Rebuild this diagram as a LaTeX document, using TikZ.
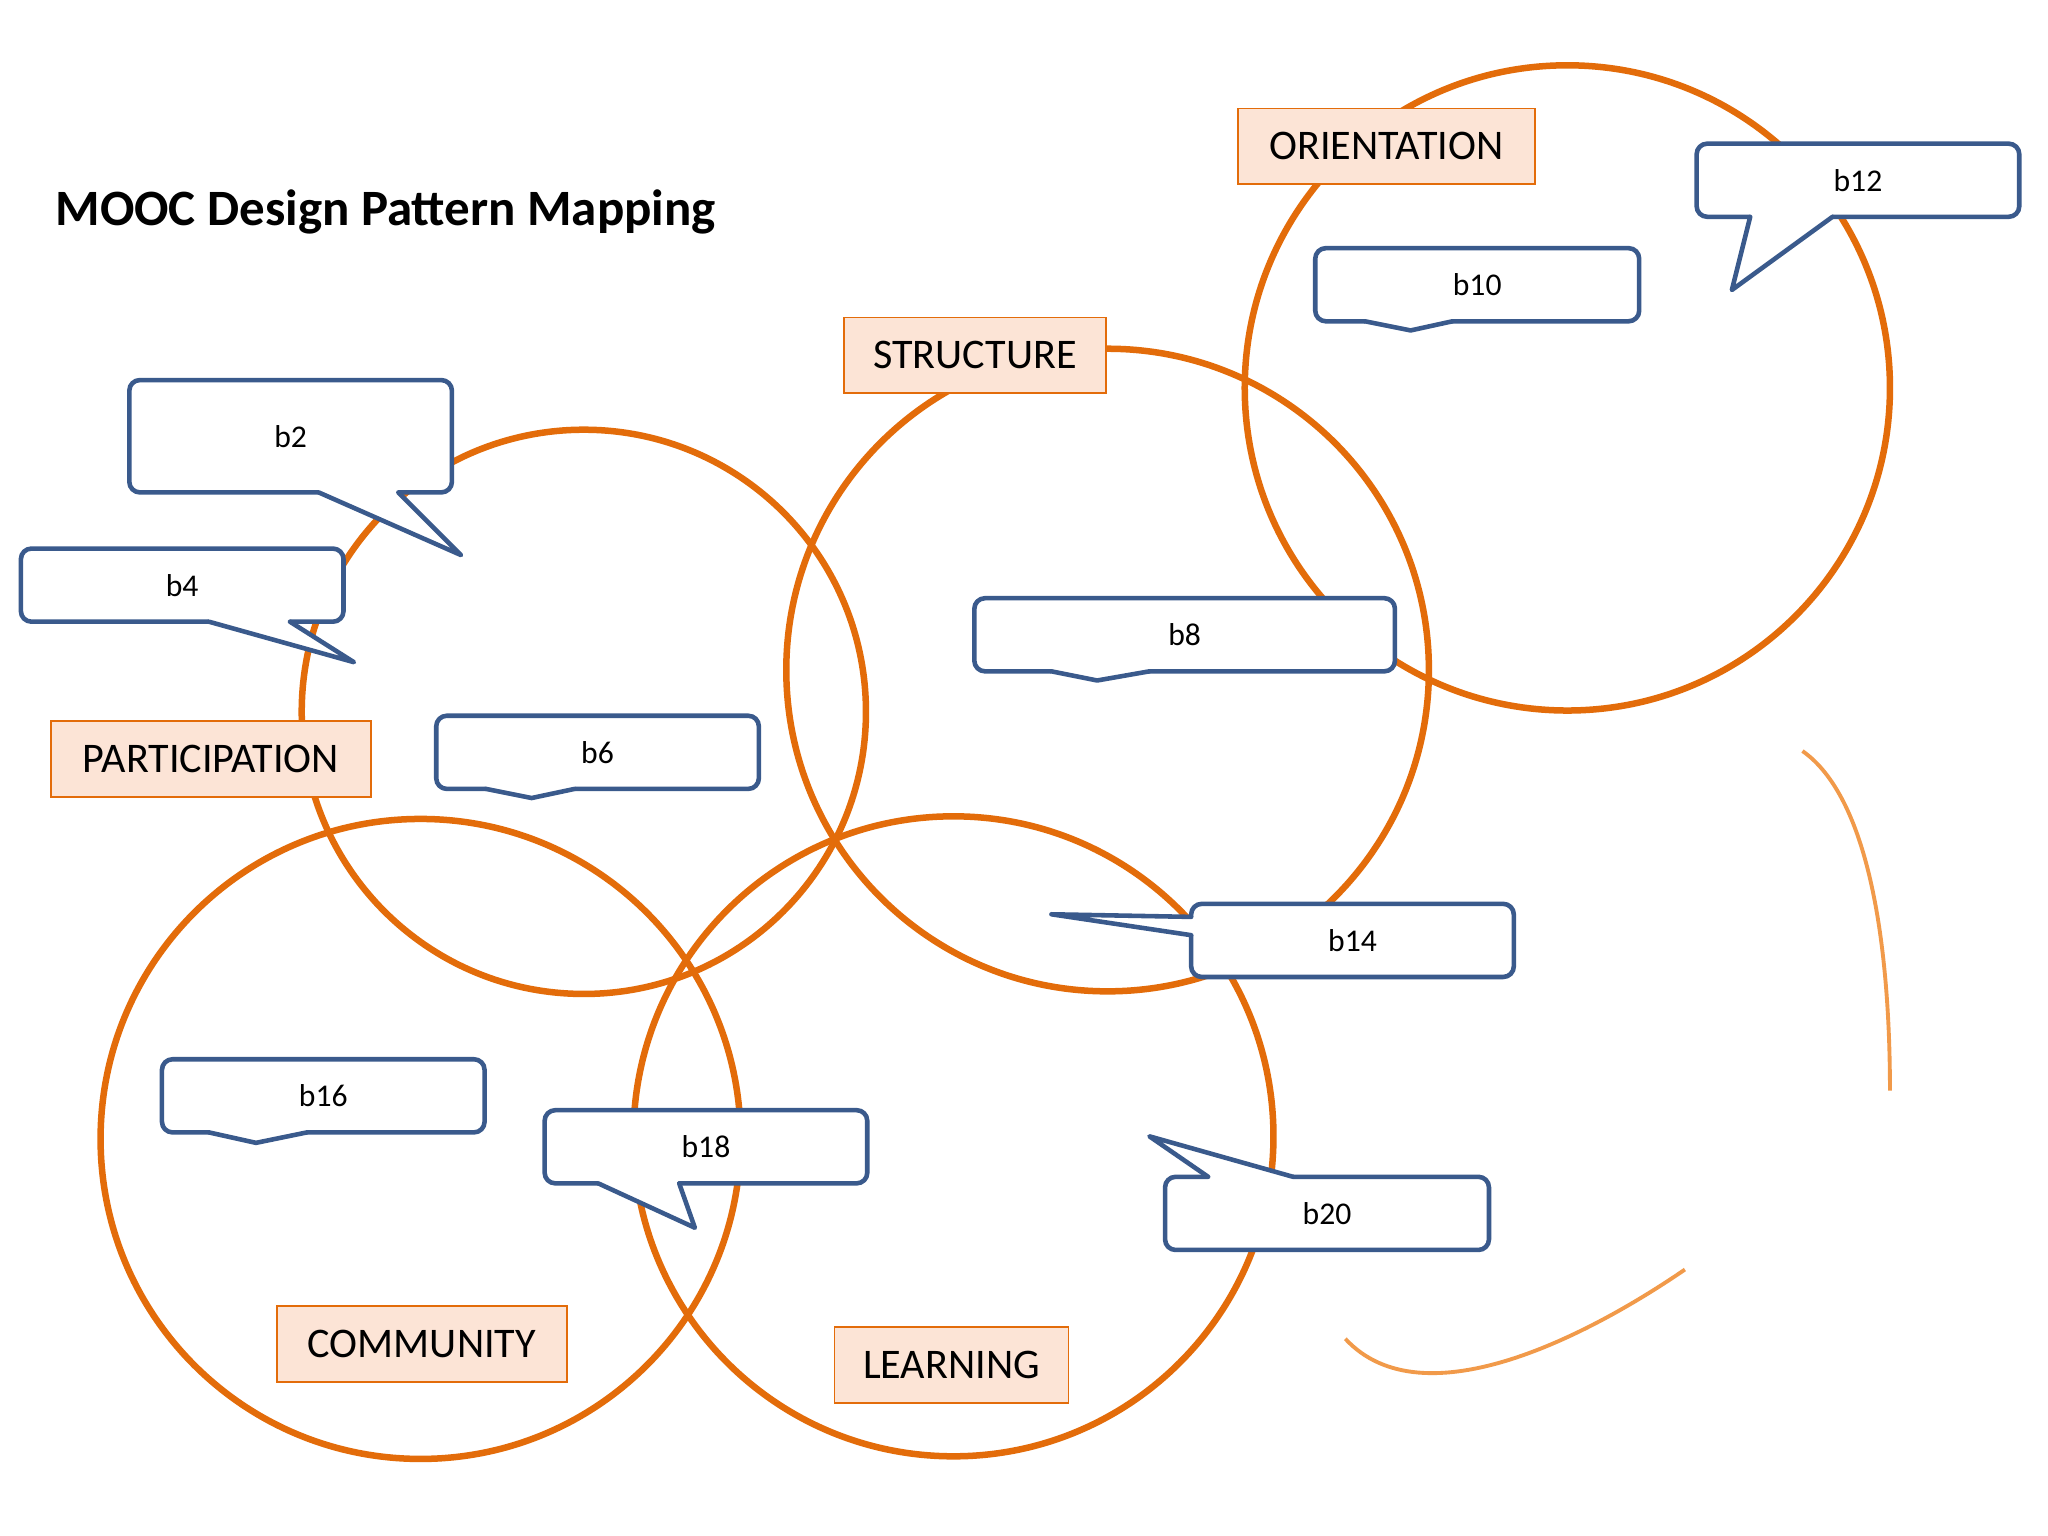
\documentclass[tikz,border=0pt]{standalone}
\usepackage{fontspec}
\setmainfont{Carlito}
\usetikzlibrary{calc}
\definecolor{org}{HTML}{E36C0A}
\definecolor{lorg}{HTML}{F19A4A}
\definecolor{peach}{HTML}{FCE4D6}
\definecolor{bub}{HTML}{3A5A8C}
\tikzset{
 circ/.style={draw=org,line width=1.85pt},
 bubline/.style={draw=bub,line width=1.3pt,line join=round},
 lab/.style={draw=org,line width=0.5pt,fill=peach,inner sep=0pt,font=\fontsize{12}{14}\selectfont},
 btext/.style={font=\fontsize{9}{11.5}\selectfont,align=center},
}
\newcommand\bub[9]{%
 \draw[bubline,fill=white,rounded corners=3pt] (#2) rectangle (#3);
 \fill[white] (#4)--(#5)--(#6)--cycle;
 \draw[white,line width=2.2pt] (#4)--(#6);
 \draw[bubline,line cap=round] (#4)--(#5)--(#6);
 \node[btext] (#1) at ($(#2)!.5!(#3)$) {#9};}
\newcommand\circl[3]{\coordinate (#1) at (#2); \draw[circ] (#1) circle[radius={#3*0.01306cm}];}
\begin{document}
\begin{tikzpicture}[x=0.01306cm,y=-0.01306cm]
\useasboundingbox[fill=white] (0,0) rectangle (1568,1176);
\node[anchor=west,font=\fontsize{14.5}{16}\selectfont\bfseries] (title) at (33,162) {MOOC Design Pattern Mapping};
\circl{co}{1200,297}{247}
\circl{cs}{848,513}{246}
\circl{cp}{447,545}{216}
\circl{cc}{322,872}{245}
\circl{cl}{730,870}{245}
% herding arcs
\coordinate (h1) at (1380,575); \coordinate (h2) at (1447,835);
\coordinate (h3) at (1290,972); \coordinate (h4) at (1030,1025);
\draw[lorg,line width=1.1pt] (h1) .. controls (1430,610) and (1447,720) .. (h2);
\draw[lorg,line width=1.1pt] (h3) .. controls (1220,1020) and (1090,1090) .. (h4);
% labels
\node[lab,minimum width={227*0.01306cm},minimum height={58*0.01306cm}] (lo) at (1061.5,112) {ORIENTATION};
\node[lab,minimum width={201*0.01306cm},minimum height={58*0.01306cm}] (ls) at (746.5,272) {STRUCTURE};
\node[lab,minimum width={245*0.01306cm},minimum height={58*0.01306cm}] (lp) at (161.5,581) {PARTICIPATION};
\node[lab,minimum width={222*0.01306cm},minimum height={58*0.01306cm}] (lc) at (323,1029) {COMMUNITY};
\node[lab,minimum width={179*0.01306cm},minimum height={58*0.01306cm}] (ll) at (728.5,1045) {LEARNING};
% bubbles
\bub{b1}{99,291}{346,377}{244,377}{353,425}{305,377}{Sparking forum\\participation}
\bub{b2}{386,307}{633,363}{430,363}{426,414}{490,363}{Sharing wall}
\bub{b3}{16,420}{263,476}{160,476}{271,507}{222,476}{Fishbowl}
\bub{b4}{292,459}{564,515}{330,515}{368,527}{405,515}{Provocative question}
\bub{b5}{334,548}{581,604}{372,604}{407,611}{440,604}{Chatflow}
\bub{b6}{668,373}{916,429}{705,429}{740,437}{775,429}{Bring them along}
\bub{b7}{746,458}{1068,514}{805,514}{840,521}{880,514}{Scaffolded MOOC}
\bub{b8}{948,371}{1270,427}{990,427}{1048,438}{1080,427}{Know your audience}
\bub{b9}{1007,190}{1255,246}{1045,246}{1080,253}{1112,246}{Induction}
\bub{b10}{1112,278}{1360,334}{1112,308}{997,346}{1112,322}{Checkpoints}
\bub{b11}{1299,110}{1546,166}{1340,166}{1326,222}{1403,166}{Bend don’t break}
\bub{b12}{960,542}{1281,598}{1015,598}{927,618}{1092,598}{Adjacent platforms}
\bub{b13}{912,692}{1159,748}{912,702}{805,700}{912,716}{MOOC Legacy}
\bub{b14}{642,779}{921,835}{690,779}{678,745}{760,779}{Large diverse groups}
\bub{b15}{124,811}{371,867}{160,867}{196,875}{235,867}{Crowd bonding}
\bub{b16}{146,904}{394,960}{183,960}{218,967}{255,960}{Drumbeat}
\bub{b17}{417,850}{664,906}{458,906}{532,940}{520,906}{See Do Share}
\bub{b18}{611,935}{859,991}{655,935}{721,904}{718,935}{Knowing the story}
\bub{b19}{892,901}{1140,957}{925,901}{880,870}{990,901}{Six minute video}
\bub{b20}{1226,870}{1474,926}{1268,926}{1296,952}{1330,926}{Herding cats}
\end{tikzpicture}
\end{document}
